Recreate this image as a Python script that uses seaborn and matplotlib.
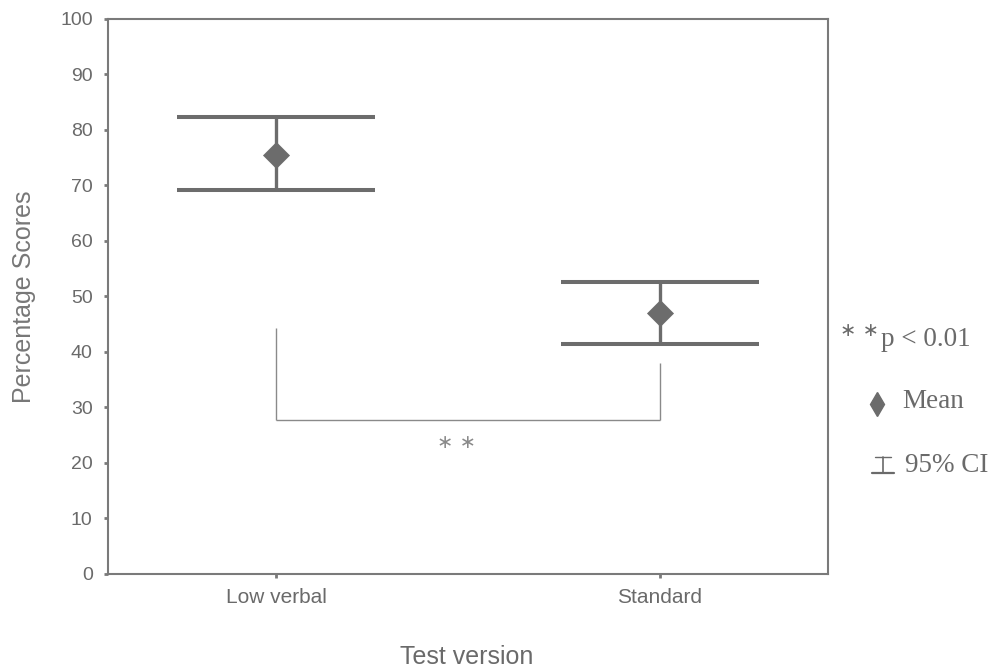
import matplotlib
matplotlib.use("Agg")
import matplotlib.pyplot as plt
from matplotlib.lines import Line2D
import seaborn as sns
import numpy as np
import pandas as pd

# ---- data ----
categories = ["Low verbal", "Standard"]
means = [75.5, 47.0]
ci_low = [69.2, 41.4]
ci_high = [82.2, 52.6]
y_ticks = [0, 10, 20, 30, 40, 50, 60, 70, 80, 90, 100]
bracket_y = 27.7
bracket_tops = [44.3, 38.0]
sig_label = "\u2217 \u2217"
legend_labels = ["p < 0.01", "Mean", "95% CI"]

sns.set_style("white")
plt.rcParams["font.family"] = ["Liberation Sans", "DejaVu Sans"]

GRAY = "#6c6c6c"
TXT = "#6a6a6a"
SPINE = "#7a7a7a"

fig = plt.figure(figsize=(9.99, 6.72), dpi=100)
ax = fig.add_axes([108 / 999, 1 - 574 / 672, 720 / 999, (574 - 18.5) / 672])

df = pd.DataFrame({"version": categories, "mean": means, "lo": ci_low, "hi": ci_high})
xpos = np.arange(len(categories))
half = 0.258

# CI stems and caps
ax.vlines(xpos, df["lo"], df["hi"], color=GRAY, lw=2.4, zorder=2)
ax.hlines(df["hi"], xpos - half, xpos + half, color=GRAY, lw=2.9, zorder=2)
ax.hlines(df["lo"], xpos - half, xpos + half, color=GRAY, lw=2.9, zorder=2)

# means
sns.scatterplot(data=df, x=xpos, y="mean", marker="D", s=190, color=GRAY,
                edgecolor=GRAY, linewidth=0, zorder=3, ax=ax, legend=False)

# significance bracket
ax.vlines(xpos, bracket_y, bracket_tops, color="#8a8a8a", lw=1.0, zorder=1)
ax.hlines(bracket_y, xpos[0], xpos[1], color="#8a8a8a", lw=1.0, zorder=1)
ax.text(0.47, bracket_y - 4.0, sig_label, ha="center", va="center",
        fontsize=14, color="#8a8a8a", family=["DejaVu Sans"])

ax.set_xlim(-0.4375, 1.4375)
ax.set_ylim(0, 100)
ax.set_xticks(xpos)
ax.set_xticklabels(categories)
ax.set_yticks(y_ticks)
ax.tick_params(axis="x", labelsize=15, colors=SPINE, labelcolor=TXT, length=3, width=2, pad=7, direction="out", bottom=True)
ax.tick_params(axis="y", labelsize=14, colors=SPINE, labelcolor=TXT, length=3, width=2, pad=8, direction="out", left=True)
for s in ax.spines.values():
    s.set_color(SPINE)
    s.set_linewidth(1.5)

ax.set_xlabel("")
ax.set_ylabel("")
fig.text(467 / 999, 1 - 657 / 672, "Test version", ha="center", va="center", fontsize=18, color=TXT)
fig.text(24 / 999, 1 - 297 / 672, "Percentage Scores", ha="center", va="center", rotation=90,
         fontsize=18, color="#777777")

# legend at right
serif = ["Liberation Serif", "DejaVu Serif"]
fig.text(859 / 999, 1 - 331 / 672, "\u2217 \u2217", ha="center", va="center", fontsize=14, color=TXT,
         family=["DejaVu Sans"])
fig.text(881 / 999, 1 - 340 / 672, legend_labels[0], ha="left", va="center", fontsize=19.5, color=TXT, family=serif)
fig.add_artist(Line2D([877 / 999], [1 - 404 / 672], marker="d", markersize=12, color=GRAY,
                      linestyle="none", transform=fig.transFigure))
fig.text(902 / 999, 1 - 402 / 672, legend_labels[1], ha="left", va="center", fontsize=19.5, color=TXT, family=serif)
# CI glyph
cx, ytop, ybot = 883, 457, 473
fig.add_artist(Line2D([cx / 999, cx / 999], [1 - ytop / 672, 1 - ybot / 672], color=TXT, lw=1.2, transform=fig.transFigure))
fig.add_artist(Line2D([(cx - 8) / 999, (cx + 8) / 999], [1 - ytop / 672] * 2, color=TXT, lw=1.0, transform=fig.transFigure))
fig.add_artist(Line2D([(cx - 11) / 999, (cx + 11) / 999], [1 - ybot / 672] * 2, color=TXT, lw=1.6, transform=fig.transFigure))
fig.text(905 / 999, 1 - 465 / 672, legend_labels[2], ha="left", va="center", fontsize=19.5, color=TXT, family=serif)

fig.savefig("out.png", dpi=100, facecolor="white")
